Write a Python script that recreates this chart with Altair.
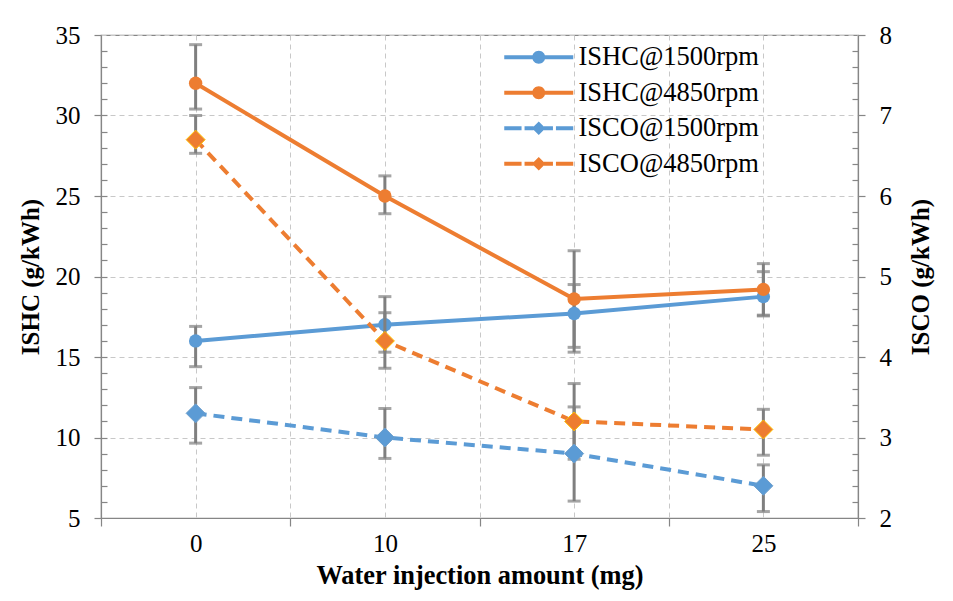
import altair as alt
import pandas as pd

categories = ["0", "10", "17", "25"]
series = ["ISHC@1500rpm", "ISHC@4850rpm", "ISCO@1500rpm", "ISCO@4850rpm"]
colors = ["#5B9BD5", "#ED7D31", "#5B9BD5", "#ED7D31"]
marker_edges = ["#5B9BD5", "#ED7D31", "#6E9FCC", "#FFC000"]

ishc_1500 = [16.0, 17.0, 17.7, 18.75]
ishc_1500_hi = [16.9, 18.75, 19.5, 20.3]
ishc_1500_lo = [14.4, 15.3, 15.3, 17.55]

ishc_4850 = [32.0, 25.0, 18.6, 19.2]
ishc_4850_hi = [34.4, 26.25, 21.6, 20.8]
ishc_4850_lo = [30.4, 23.9, 15.6, 17.6]

isco_1500 = [3.3, 3.0, 2.8, 2.4]
isco_1500_hi = [3.62, 3.36, 3.38, 2.66]
isco_1500_lo = [2.93, 2.74, 2.21, 2.08]

isco_4850 = [6.7, 4.2, 3.2, 3.1]
isco_4850_hi = [7.0, 4.55, 3.67, 3.35]
isco_4850_lo = [6.53, 3.86, 2.73, 2.78]

rows = []
for name, grp, vals, his, los in [
    (series[0], "ISHC", ishc_1500, ishc_1500_hi, ishc_1500_lo),
    (series[1], "ISHC", ishc_4850, ishc_4850_hi, ishc_4850_lo),
    (series[2], "ISCO", isco_1500, isco_1500_hi, isco_1500_lo),
    (series[3], "ISCO", isco_4850, isco_4850_hi, isco_4850_lo),
]:
    for i, c in enumerate(categories):
        rows.append({"idx": i, "cat": c, "series": name, "group": grp,
                     "value": vals[i], "hi": his[i], "lo": los[i],
                     "order": series.index(name)})
df = pd.DataFrame(rows)

FONT = "Liberation Serif"
AXIS_COL = "#868686"
GRID_COL = "#C8C8C8"
ERR_COL = "#7F7F7F"

label_list = "[" + ",".join("'" + c + "'" for c in categories) + "]"
x_vals = [i * 0.5 - 0.5 for i in range(2 * len(categories) + 1)]
X = alt.X(
    "idx:Q",
    scale=alt.Scale(domain=[-0.5, len(categories) - 0.5], nice=False, zero=False),
    axis=alt.Axis(
        values=x_vals,
        labelExpr="datum.value % 1 === 0 ? " + label_list + "[datum.value] : ''",
        title="Water injection amount (mg)",
        grid=True, gridDash=[5, 4], gridColor=GRID_COL, gridWidth=1,
        tickSize=8, tickColor=AXIS_COL, tickWidth=1.2,
        tickOpacity={"condition": {"test": "datum.value % 1 === 0", "value": 0}, "value": 1},
        domainColor=AXIS_COL, domainWidth=1.2,
        labelFont=FONT, labelFontSize=25, labelColor="#000000", labelPadding=5,
        titleFont=FONT, titleFontSize=26.4, titleFontWeight="bold", titleColor="#000000",
        titlePadding=6,
    ),
)

# colour scales for the data marks use the data-derived (alphabetical) domain
sorted_series = sorted(series)
color = alt.Color("series:N", scale=alt.Scale(range=[colors[series.index(s)] for s in sorted_series]),
                  legend=None)
edge = alt.Stroke("series:N", scale=alt.Scale(range=[marker_edges[series.index(s)] for s in sorted_series]),
                  legend=None)

def yaxis_major(title, orient, values):
    return alt.Axis(
        orient=orient, title=title, values=values, format=".0f",
        grid=(orient == "left"), gridDash=[5, 4], gridColor=GRID_COL, gridWidth=1,
        tickSize=7, tickColor=AXIS_COL, tickWidth=1.2,
        domainColor=AXIS_COL, domainWidth=1.2,
        labelFont=FONT, labelFontSize=25, labelColor="#000000", labelPadding=14,
        titleFont=FONT, titleFontSize=25, titleFontWeight="bold", titleColor="#000000",
        titlePadding=12 if orient == "left" else 17, titleAngle=270,
        titleBaseline="bottom" if orient == "left" else "top",
    )

def yaxis_minor(orient, values):
    return alt.Axis(
        orient=orient, title=None, values=values, labels=False, domain=False,
        grid=False, tickSize=6, tickColor=AXIS_COL, tickWidth=1.2, offset=-6,
    )

base = alt.Chart(df)
LW = 4

# ---- left (ISHC) group
ishc = base.transform_filter("datum.group == 'ISHC'")
left_dom = [5, 35]
yl = alt.Scale(domain=left_dom, nice=False, zero=False)
left_line = ishc.mark_line(strokeWidth=LW).encode(
    x=X, y=alt.Y("value:Q", scale=yl, axis=yaxis_major("ISHC (g/kWh)", "left", list(range(5, 36, 5)))),
    color=color, detail="series:N")
left_rule = ishc.mark_rule(color=ERR_COL, strokeWidth=3).encode(
    x=X, y=alt.Y("lo:Q", scale=yl), y2="hi:Q")
left_cap_hi = ishc.mark_tick(color=ERR_COL, thickness=3, size=13, orient="horizontal").encode(
    x=X, y=alt.Y("hi:Q", scale=yl))
left_cap_lo = ishc.mark_tick(color=ERR_COL, thickness=3, size=13, orient="horizontal").encode(
    x=X, y=alt.Y("lo:Q", scale=yl))
left_pts = ishc.mark_point(filled=True, opacity=1, size=180, shape="circle").encode(
    x=X, y=alt.Y("value:Q", scale=yl), color=color, order="order:Q")
left_group = alt.layer(left_line, left_rule, left_cap_hi, left_cap_lo, left_pts)

left_minor = ishc.mark_point(opacity=0).encode(
    x=X, y=alt.Y("value:Q", scale=alt.Scale(domain=left_dom, nice=False, zero=False),
                 axis=yaxis_minor("left", list(range(6, 35)))))

# ---- right (ISCO) group
isco = base.transform_filter("datum.group == 'ISCO'")
right_dom = [2, 8]
yr = alt.Scale(domain=right_dom, nice=False, zero=False)
right_line = isco.mark_line(strokeWidth=LW, strokeDash=[11, 7]).encode(
    x=X, y=alt.Y("value:Q", scale=yr, axis=yaxis_major("ISCO (g/kWh)", "right", list(range(2, 9)))),
    color=color, detail="series:N")
right_rule = isco.mark_rule(color=ERR_COL, strokeWidth=3).encode(
    x=X, y=alt.Y("lo:Q", scale=yr), y2="hi:Q")
right_cap_hi = isco.mark_tick(color=ERR_COL, thickness=3, size=13, orient="horizontal").encode(
    x=X, y=alt.Y("hi:Q", scale=yr))
right_cap_lo = isco.mark_tick(color=ERR_COL, thickness=3, size=13, orient="horizontal").encode(
    x=X, y=alt.Y("lo:Q", scale=yr))
right_pts = isco.mark_point(filled=True, opacity=1, size=361, shape="diamond", strokeWidth=1).encode(
    x=X, y=alt.Y("value:Q", scale=yr), color=color, stroke=edge, order="order:Q")
right_group = alt.layer(right_line, right_rule, right_cap_hi, right_cap_lo, right_pts)

right_minor = isco.mark_point(opacity=0).encode(
    x=X, y=alt.Y("value:Q", scale=alt.Scale(domain=right_dom, nice=False, zero=False),
                 axis=yaxis_minor("right", [round(2 + 0.2 * k, 1) for k in range(1, 30) if k % 5 != 0])))

# ---- legend via custom symbol paths (unit = 10 px, symbol spans x -1 .. 5.9)
def rect(x0, x1, h=0.2):
    return "M%.3f,%.3fH%.3fV%.3fH%.3fZ" % (x0, -h, x1, h, x0)

CX = 2.45
solid_circle = rect(-1, 5.9) + " M%.3f,0A0.65,0.65 0 1,1 %.3f,0A0.65,0.65 0 1,1 %.3f,0Z" % (
    CX + 0.65, CX - 0.65, CX + 0.65)
dashed_diamond = (rect(-1, 0.73) + " " + rect(1.03, 1.93) + " " + rect(2.97, 3.87) + " " +
                  rect(4.17, 5.9) +
                  " M%.3f,-0.68L%.3f,0L%.3f,0.68L%.3f,0Z" % (CX, CX + 0.68, CX, CX - 0.68))

legend_layer = base.transform_filter("false").mark_point(filled=True, opacity=1).encode(
    x=X,
    y=alt.Y("value:Q", scale=alt.Scale(domain=left_dom, nice=False, zero=False), axis=None),
    fill=alt.Fill("series:N", scale=alt.Scale(domain=series, range=colors),
                  legend=alt.Legend(orient="none", legendX=400, legendY=9, title=None,
                                    labelFont=FONT, labelFontSize=26.5, labelColor="#000000",
                                    labelLimit=400,
                                    symbolSize=400, symbolOpacity=1, symbolStrokeWidth=0,
                                    rowPadding=8.5, labelOffset=51, padding=0)),
    shape=alt.Shape("series:N", scale=alt.Scale(domain=series,
                    range=[solid_circle, solid_circle, dashed_diamond, dashed_diamond])),
)

chart = alt.layer(left_group, left_minor, right_group, right_minor, legend_layer).resolve_scale(
    y="independent"
).properties(
    width=757, height=483,
    autosize=alt.AutoSizeParams(type="none"),
    padding={"left": 101, "top": 35, "right": 95, "bottom": 83},
    background="white",
).configure_view(
    stroke=AXIS_COL, strokeWidth=1.2
)

chart.save("out.html", embed_options={"renderer": "svg", "actions": False})
